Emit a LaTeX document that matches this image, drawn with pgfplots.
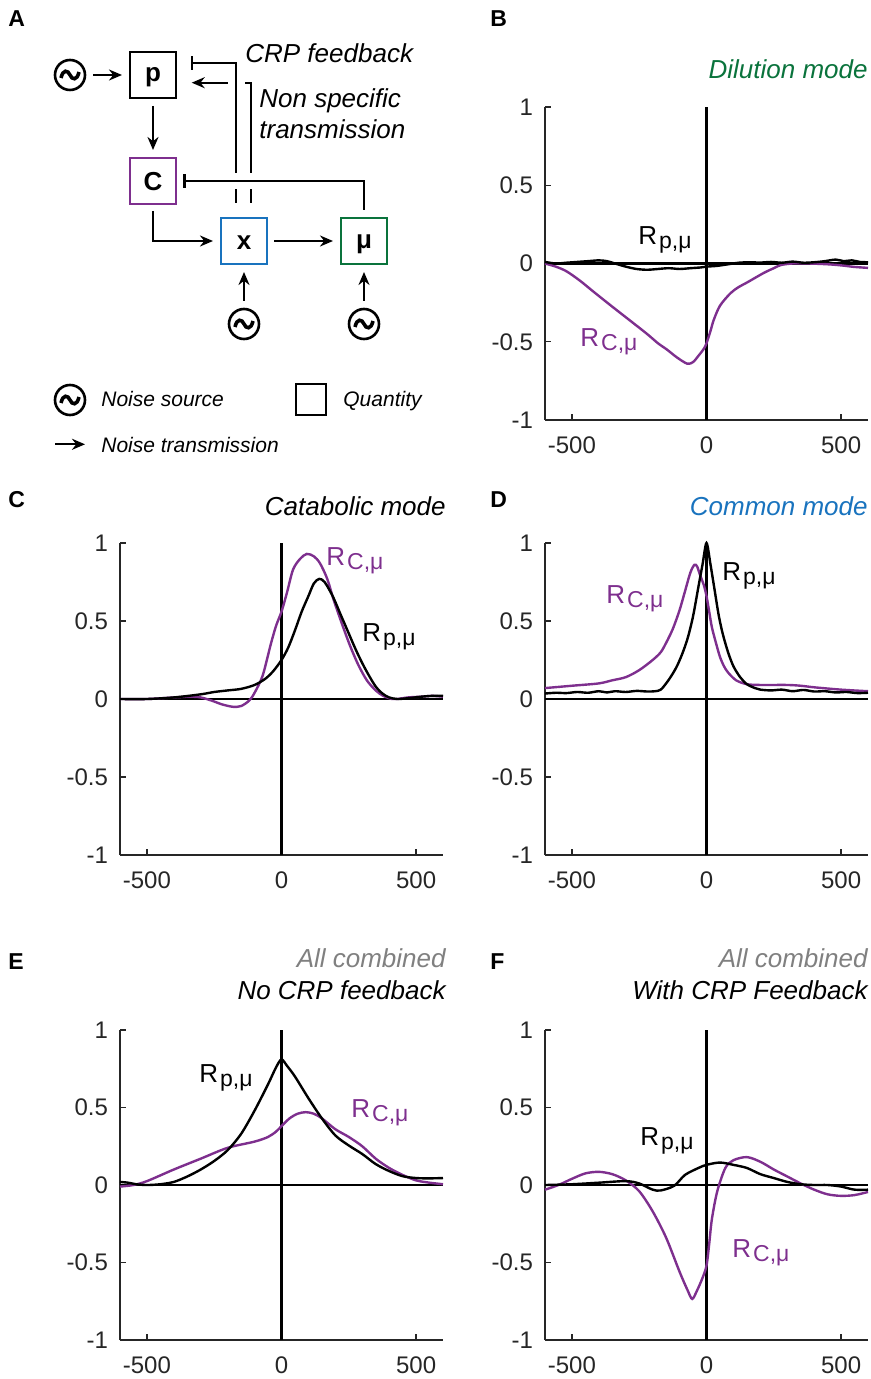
\documentclass[border=0pt]{standalone}
\usepackage{fontspec}
\setmainfont{Liberation Sans}
\usepackage{pgfplots}
\pgfplotsset{compat=1.18}
\usetikzlibrary{arrows.meta}
\definecolor{mpurple}{RGB}{126,47,142}
\definecolor{dgreen}{RGB}{10,115,60}
\definecolor{mblue}{RGB}{25,115,190}
\definecolor{axgray}{RGB}{38,38,38}
\definecolor{tgray}{RGB}{128,128,128}
\newcommand{\Rlab}[1]{R\kern1pt\raisebox{-2pt}{\fontsize{11.5}{12}\selectfont #1}}
\pgfplotsset{panel/.style={
  scale only axis, width=161.5pt, height=156pt,
  xmin=-600, xmax=600, ymin=-1, ymax=1,
  axis x line*=bottom, axis y line*=left,
  axis line style={-, line width=0.6pt, color=axgray},
  xtick={-500,0,500}, xticklabels={-500,0,500},
  ytick={-1,-0.5,0,0.5,1}, yticklabels={-1,-0.5,0,0.5,1},
  tick align=inside, major tick length=3pt,
  every tick/.style={axgray, line width=0.6pt},
  tick label style={font=\fontsize{12}{13}\selectfont, text=axgray},
  xticklabel style={yshift=-5pt},
  yticklabel style={xshift=-2.5pt},
  anchor=south west, clip=false,
  every axis plot/.append style={line width=1.2pt, smooth, mark=none},
  execute at begin axis={\draw[line width=1.2pt] (axis cs:-600,0) -- (axis cs:600,0); \draw[line width=1.2pt] (axis cs:0,-1) -- (axis cs:0,1);}
}}
\tikzset{noise/.pic={\draw[line width=1.3pt] (0,0) circle (15);
  \draw[line width=1.8pt] (-9,3) .. controls (-7,-6) and (-2,-5) .. (0,0) .. controls (2,5) and (7,6) .. (9,-3);},
  arr/.style={line width=1.1pt,-{Stealth[length=6.5pt,width=5.5pt]}},
  inh/.style={line width=1.1pt,-{Bar[width=7pt]}}}
\begin{document}
\begin{tikzpicture}
\path[use as bounding box] (0,0) rectangle (435.5pt,-689.5pt);
% ---------- Panel B
\begin{axis}[panel, at={(272.5pt,-210pt)}, height=156.5pt]
\addplot[mpurple] coordinates {(-600,0) (-560,-0.02) (-520,-0.05) (-470,-0.11) (-420,-0.18) (-347,-0.28) (-280,-0.37) (-221,-0.45) (-180,-0.51) (-147,-0.55) (-110,-0.6) (-72,-0.64) (-50,-0.63) (-30,-0.59) (-10,-0.545) (0,-0.51) (15,-0.43) (27,-0.36) (50,-0.27) (89,-0.19) (120,-0.15) (152,-0.12) (213,-0.06) (250,-0.03) (276,-0.01) (320,0.0) (380,0.0) (450,-0.005) (500,-0.012) (550,-0.022) (600,-0.028)};
\addplot[black] coordinates {(-600,0.01) (-560,0.0) (-520,0.005) (-480,0.01) (-440,0.015) (-400,0.02) (-370,0.015) (-340,0.0) (-300,-0.02) (-260,-0.035) (-220,-0.04) (-180,-0.035) (-140,-0.03) (-100,-0.035) (-60,-0.03) (-20,-0.025) (0,-0.02) (40,-0.015) (80,-0.005) (120,0.005) (160,0.008) (200,0.006) (240,0.01) (280,0.005) (320,0.012) (360,0.005) (400,0.008) (440,0.015) (480,0.025) (510,0.015) (540,0.02) (570,0.01) (600,0.008)};
\end{axis}
% ---------- Panel C
\begin{axis}[panel, at={(60pt,-427.5pt)}]
\addplot[mpurple] coordinates {(-600,0) (-500,0) (-400,0.01) (-340,0.015) (-300,0.01) (-260,-0.01) (-220,-0.035) (-180,-0.05) (-150,-0.045) (-120,-0.01) (-100,0.04) (-70,0.15) (-40,0.35) (-20,0.47) (0,0.56) (20,0.68) (43,0.83) (70,0.9) (94,0.93) (120,0.915) (143,0.87) (170,0.77) (193,0.64) (225,0.48) (255,0.34) (285,0.22) (317,0.12) (350,0.055) (378,0.02) (410,0.0) (430,0.0) (470,0.01) (520,0.015) (560,0.02) (600,0.015)};
\addplot[black] coordinates {(-600,0.0) (-500,0.0) (-400,0.01) (-300,0.03) (-250,0.045) (-200,0.055) (-150,0.065) (-100,0.09) (-60,0.13) (-30,0.18) (0,0.25) (25,0.33) (50,0.44) (75,0.56) (100,0.66) (120,0.74) (140,0.77) (160,0.75) (190,0.66) (220,0.54) (250,0.42) (275,0.32) (300,0.23) (325,0.15) (350,0.08) (375,0.035) (400,0.01) (430,0.0) (470,0.005) (520,0.015) (560,0.02) (600,0.02)};
\end{axis}
% ---------- Panel D
\begin{axis}[panel, at={(272.5pt,-427.5pt)}]
\addplot[mpurple] coordinates {(-600,0.07) (-500,0.085) (-400,0.10) (-350,0.12) (-300,0.14) (-250,0.185) (-200,0.25) (-170,0.30) (-150,0.36) (-125,0.45) (-100,0.57) (-80,0.69) (-60,0.81) (-45,0.86) (-35,0.85) (-25,0.80) (-10,0.73) (0,0.66) (10,0.56) (20,0.46) (35,0.36) (50,0.27) (65,0.21) (80,0.17) (110,0.12) (150,0.095) (200,0.09) (300,0.09) (350,0.085) (400,0.075) (500,0.06) (600,0.05)};
\addplot[black] coordinates {(-600,0.035) (-560,0.04) (-520,0.038) (-480,0.045) (-440,0.04) (-400,0.05) (-370,0.042) (-340,0.05) (-300,0.045) (-260,0.052) (-220,0.048) (-190,0.05) (-170,0.06) (-150,0.10) (-130,0.15) (-110,0.21) (-90,0.29) (-70,0.39) (-50,0.53) (-30,0.72) (-15,0.86) (0,1.0) (15,0.86) (30,0.70) (45,0.54) (60,0.42) (80,0.30) (100,0.21) (125,0.14) (150,0.095) (180,0.07) (200,0.06) (240,0.055) (280,0.06) (320,0.05) (360,0.058) (400,0.048) (440,0.05) (480,0.042) (520,0.045) (560,0.038) (600,0.04)};
\end{axis}
% ---------- Panel E
\begin{axis}[panel, at={(60pt,-670pt)}, height=155pt]
\addplot[mpurple] coordinates {(-600,-0.01) (-550,0.0) (-500,0.025) (-400,0.10) (-300,0.17) (-200,0.24) (-100,0.28) (-50,0.31) (-20,0.345) (0,0.38) (30,0.43) (60,0.46) (90,0.47) (120,0.46) (150,0.43) (200,0.36) (250,0.31) (300,0.25) (350,0.17) (400,0.11) (450,0.065) (500,0.03) (550,0.015) (600,0.005)};
\addplot[black] coordinates {(-600,0.02) (-570,0.015) (-540,0.005) (-500,0.0) (-450,0.005) (-400,0.02) (-350,0.055) (-300,0.1) (-250,0.155) (-200,0.225) (-150,0.33) (-100,0.48) (-50,0.65) (-20,0.76) (0,0.81) (20,0.77) (50,0.70) (100,0.56) (150,0.43) (200,0.32) (250,0.255) (300,0.2) (350,0.135) (400,0.09) (450,0.057) (500,0.045) (550,0.043) (600,0.045)};
\end{axis}
% ---------- Panel F
\begin{axis}[panel, at={(272.5pt,-670pt)}, height=155pt]
\addplot[mpurple] coordinates {(-600,-0.03) (-550,0.0) (-500,0.04) (-450,0.075) (-400,0.085) (-350,0.07) (-300,0.03) (-250,-0.04) (-200,-0.17) (-150,-0.34) (-100,-0.56) (-70,-0.68) (-53,-0.735) (-35,-0.68) (-15,-0.6) (0,-0.52) (10,-0.38) (20,-0.22) (40,-0.04) (70,0.11) (100,0.16) (150,0.18) (200,0.15) (250,0.10) (300,0.055) (350,0.01) (400,-0.03) (450,-0.06) (500,-0.07) (550,-0.065) (600,-0.045)};
\addplot[black] coordinates {(-600,0.0) (-500,0.005) (-400,0.015) (-300,0.025) (-250,0.01) (-200,-0.03) (-170,-0.035) (-120,-0.005) (-80,0.065) (-30,0.11) (0,0.13) (50,0.145) (100,0.13) (150,0.11) (200,0.07) (250,0.045) (300,0.02) (350,0.005) (400,0.0) (450,0.0) (500,-0.01) (550,-0.03) (600,-0.03)};
\end{axis}
% ---------- annotations and diagram (pixel coordinates)
\begin{scope}[x=0.5pt,y=-0.5pt]
\tikzset{lab/.style={inner sep=0pt, font=\fontsize{13}{14}\selectfont}}
\tikzset{ttl/.style={inner sep=0pt, anchor=base east, font=\fontsize{13}{14}\selectfont\itshape}}
\tikzset{let/.style={inner sep=0pt, anchor=base west, font=\fontsize{11.5}{13}\selectfont\bfseries}}
% panel letters
\node[let] at (8,27) {A};
\node[let] at (490,27) {B};
\node[let] at (8,507) {C};
\node[let] at (490,507) {D};
\node[let] at (8,969) {E};
\node[let] at (490,969) {F};
% titles
\node[ttl, text=dgreen] at (868,79) {Dilution mode};
\node[ttl] at (446,515) {Catabolic mode};
\node[ttl, text=mblue] at (868,515) {Common mode};
\node[ttl, text=tgray] at (446,967) {All combined};
\node[ttl] at (446,999) {No CRP feedback};
\node[ttl, text=tgray] at (868,967) {All combined};
\node[ttl] at (868,999) {With CRP Feedback};
% curve labels
\node[lab, anchor=base west] at (638,245) {\Rlab{p,μ}};
\node[lab, anchor=base west, text=mpurple] at (580,347) {\Rlab{C,μ}};
\node[lab, anchor=base west, text=mpurple] at (326,565) {\Rlab{C,μ}};
\node[lab, anchor=base west] at (362,641) {\Rlab{p,μ}};
\node[lab, anchor=base west, text=mpurple] at (606,603) {\Rlab{C,μ}};
\node[lab, anchor=base west] at (722,580) {\Rlab{p,μ}};
\node[lab, anchor=base west] at (199,1082) {\Rlab{p,μ}};
\node[lab, anchor=base west, text=mpurple] at (351,1117) {\Rlab{C,μ}};
\node[lab, anchor=base west] at (640,1145) {\Rlab{p,μ}};
\node[lab, anchor=base west, text=mpurple] at (732,1257) {\Rlab{C,μ}};
% diagram boxes
\draw[line width=1pt] (130,52) rectangle (176,98);
\draw[line width=1pt, mpurple] (130,158) rectangle (176,204);
\draw[line width=1pt, mblue] (221,218) rectangle (267,264);
\draw[line width=1pt, dgreen] (341,218) rectangle (387,264);
\node[font=\fontsize{13}{14}\selectfont\bfseries] at (153,77) {p};
\node[font=\fontsize{13}{14}\selectfont\bfseries] at (153,182) {C};
\node[font=\fontsize{13}{14}\selectfont\bfseries] at (244,243) {x};
\node[font=\fontsize{13}{14}\selectfont\bfseries] at (364,244) {μ};
% noise sources
\pic at (70,75) {noise};
\pic at (244,324) {noise};
\pic at (364,324) {noise};
\pic at (70,400) {noise};
% arrows
\draw[arr] (93,75) -- (122,75);
\draw[arr] (153,106) -- (153,150);
\draw[arr] (153,211) |- (213,241);
\draw[arr] (274,241) -- (333,241);
\draw[arr] (244,301) -- (244,272);
\draw[arr] (364,301) -- (364,272);
% feedback lines
\draw[line width=1.1pt] (236,203) -- (236,189);
\draw[inh] (236,172.7) -- (236,62.7) -- (190.7,62.7);
\draw[line width=1.1pt] (250.7,203) -- (250.7,189);
\draw[line width=1.1pt] (250.7,172.7) -- (250.7,82.7) -- (245,82.7);
\draw[arr] (227.7,82.7) -- (191.7,82.7);
\draw[inh] (364,210) -- (364,181) -- (183.3,181);
% diagram text
\node[inner sep=0pt, anchor=base west, font=\fontsize{13}{14}\selectfont\itshape] at (245,63) {CRP feedback};
\node[inner sep=0pt, anchor=base west, font=\fontsize{13}{14}\selectfont\itshape] at (259,108) {Non specific};
\node[inner sep=0pt, anchor=base west, font=\fontsize{13}{14}\selectfont\itshape] at (259,139) {transmission};
% legend
\draw[line width=1pt] (296,384) rectangle (326,415);
\draw[arr] (55,444.3) -- (85,444.3);
\node[inner sep=0pt, anchor=base west, font=\fontsize{10.5}{12}\selectfont\itshape] at (101,407) {Noise source};
\node[inner sep=0pt, anchor=base west, font=\fontsize{10.5}{12}\selectfont\itshape] at (343,407) {Quantity};
\node[inner sep=0pt, anchor=base west, font=\fontsize{10.5}{12}\selectfont\itshape] at (101,452) {Noise transmission};
\end{scope}
\end{tikzpicture}
\end{document}
